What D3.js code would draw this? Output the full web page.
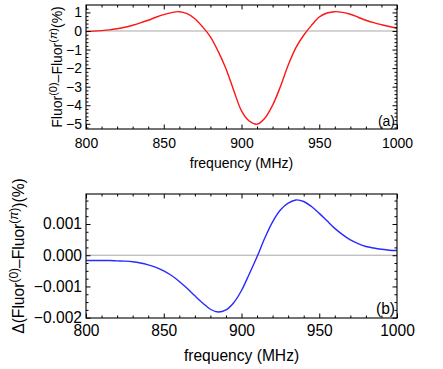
<!DOCTYPE html>
<html><head><meta charset="utf-8">
<script src="https://cdn.jsdelivr.net/npm/d3@7"></script>
<style>
html,body{margin:0;padding:0;background:#fff;}
text{font-family:"Liberation Sans",Arial,sans-serif;}
</style></head>
<body><svg id="chart" width="443" height="369"></svg>
<script>
// ---- data ----
const freq = d3.range(800, 1001, 5);
const diffA = [-0.03,-0.01,0.02,0.06,0.12,0.20,0.31,0.44,0.58,0.74,0.88,0.99,1.04,0.93,0.66,0.22,-0.32,-1.10,-2.03,-3.20,-4.30,-4.85,-5.02,-4.70,-4.00,-3.00,-1.85,-0.90,-0.23,0.30,0.75,0.97,1.04,1.00,0.90,0.74,0.58,0.45,0.34,0.24,0.16];
const diffB = [-0.00017,-0.00017,-0.00017,-0.00017,-0.00018,-0.00019,-0.00021,-0.00025,-0.00031,-0.00039,-0.00050,-0.00065,-0.00084,-0.00106,-0.00130,-0.00153,-0.00173,-0.00182,-0.00175,-0.00152,-0.00113,-0.00060,-0.00005,0.00055,0.00107,0.00145,0.00167,0.00177,0.00172,0.00156,0.00134,0.00110,0.00086,0.00066,0.00049,0.00037,0.00028,0.00023,0.00019,0.00016,0.00015];
const xTicks = [800, 850, 900, 950, 1000];
const yTicksA = [1, 0, -1, -2, -3, -4, -5];
const yTicksB = [0.001, 0.000, -0.001, -0.002];

const svg = d3.select("#chart");
const L = 86, R = 397;
const x = d3.scaleLinear().domain([800, 1000]).range([L, R]);
const xMinor = d3.range(800, 1001, 10);
const fmtMinus = s => s.replace("-", "\u2212");

function panel(cfg) {
  const g = svg.append("g");
  const fs = cfg.fs + "px";
  const y = d3.scaleLinear().domain(cfg.domain).range([cfg.bottom, cfg.top]);
  // zero line
  g.append("line").attr("x1", L).attr("x2", R).attr("y1", y(0)).attr("y2", y(0))
    .attr("stroke", "#a8a8a8").attr("stroke-width", 1);
  // curve
  const line = d3.line().x((d, i) => x(freq[i])).y(d => y(d)).curve(d3.curveCatmullRom.alpha(0.5));
  g.append("path").datum(cfg.values).attr("d", line).attr("fill", "none")
    .attr("stroke", cfg.color).attr("stroke-width", 1.4);
  // axes - ticks inside
  const ax = (axis, tr, vals, size, fmt) => {
    const a = g.append("g").attr("transform", tr)
      .call(axis.tickValues(vals).tickSize(size).tickPadding(4).tickFormat(fmt));
    a.select(".domain").remove();
    a.selectAll("line").attr("stroke", "#000");
    a.selectAll("text").attr("font-size", fs).attr("fill", "#000")
      .attr("font-family", '"Liberation Sans",Arial,sans-serif');
    return a;
  };
  const minorX = xMinor.filter(v => !xTicks.includes(v));
  const bx = ax(d3.axisBottom(x), `translate(0,${cfg.bottom})`, xTicks, -4.5, d3.format("d"));
  bx.selectAll("text").attr("dy", null).attr("y", cfg.xlabY);
  ax(d3.axisBottom(x), `translate(0,${cfg.bottom})`, minorX, -2.5, "");
  ax(d3.axisTop(x), `translate(0,${cfg.top})`, xTicks, -4.5, "");
  ax(d3.axisTop(x), `translate(0,${cfg.top})`, minorX, -2.5, "");
  ax(d3.axisLeft(y), `translate(${L},0)`, cfg.yticks, -4.5, d => fmtMinus(cfg.fmt(d)));
  ax(d3.axisLeft(y), `translate(${L},0)`, cfg.yminor, -2.5, "");
  ax(d3.axisRight(y), `translate(${R},0)`, cfg.yticks, -4.5, "");
  ax(d3.axisRight(y), `translate(${R},0)`, cfg.yminor, -2.5, "");
  // frame
  g.append("rect").attr("x", L).attr("y", cfg.top).attr("width", R - L).attr("height", cfg.bottom - cfg.top)
    .attr("fill", "none").attr("stroke", "#000").attr("stroke-width", 1.1);
  // x title
  g.append("text").attr("x", (L + R) / 2).attr("y", cfg.xtitleY).attr("text-anchor", "middle")
    .attr("font-size", fs).text("frequency (MHz)");
  // panel tag
  g.append("text").attr("x", R - 2).attr("y", cfg.tagY).attr("text-anchor", "end")
    .attr("font-size", fs).text(cfg.tag);
  // y title with superscripts
  const t = g.append("text").attr("transform", `translate(${cfg.ytX},${(cfg.top + cfg.bottom) / 2}) rotate(-90)`)
    .attr("text-anchor", "middle").attr("font-size", fs);
  let cur = 0;
  cfg.ytitle.forEach(p => {
    const target = p.sup ? -cfg.supShift : 0;
    const s = t.append("tspan").text(p.t).attr("dy", target - cur);
    cur = target;
    if (p.sup) s.attr("font-size", cfg.supFs + "px");
    if (p.it) s.attr("font-style", "italic");
  });
}

// top panel
panel({
  top: 5, bottom: 129, domain: [-5.28, 1.40], values: diffA, color: "#ff1414", fs: 14, supFs: 11, supShift: 5.5,
  yticks: yTicksA, yminor: d3.range(-5.2, 1.4, 0.2).map(v => +v.toFixed(1)).filter(v => !yTicksA.includes(v)),
  fmt: d3.format("d"), xlabY: 19, xtitleY: 168, tag: "(a)", tagY: 126, ytX: 62,
  ytitle: [{t: "Fluor"}, {t: "(0)", sup: true}, {t: "\u2013Fluor"}, {t: "(", sup: true}, {t: "\u03C0", sup: true, it: true}, {t: ")", sup: true}, {t: "(%)"}]
});
// bottom panel
panel({
  top: 194, bottom: 318, domain: [-0.00201, 0.00196], values: diffB, color: "#2a2aff", fs: 15.6, supFs: 12, supShift: 6,
  yticks: yTicksB, yminor: d3.range(-0.002, 0.00196, 0.00025).map(v => +v.toFixed(5)).filter(v => !yTicksB.some(t => Math.abs(t - v) < 1e-9)),
  fmt: d3.format(".3f"), xlabY: 18, xtitleY: 361, tag: "(b)", tagY: 314, ytX: 24,
  ytitle: [{t: "\u0394(Fluor"}, {t: "(0)", sup: true}, {t: "\u2013Fluor"}, {t: "(", sup: true}, {t: "\u03C0", sup: true, it: true}, {t: ")", sup: true}, {t: ")(%)"}]
});
</script></body></html>
